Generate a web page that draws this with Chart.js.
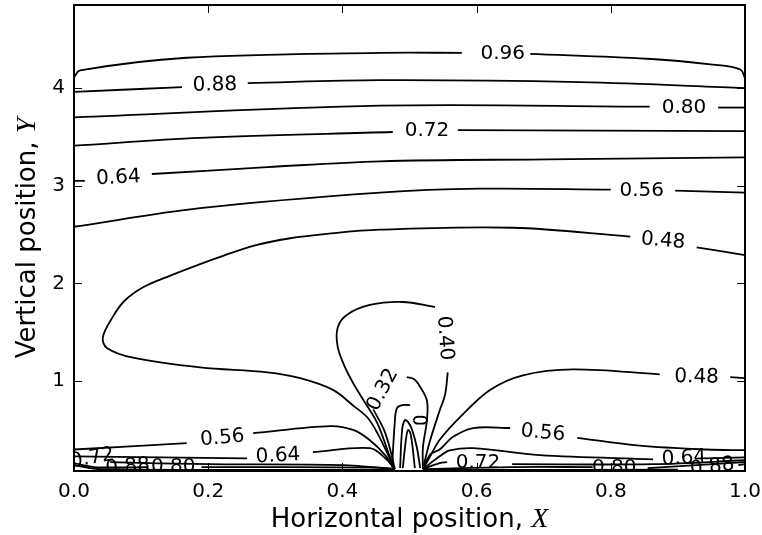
<!DOCTYPE html>
<html><head><meta charset="utf-8">
<script src="https://cdn.jsdelivr.net/npm/chart.js@4"></script>
<style>html,body{margin:0;padding:0;background:#fff}canvas{display:block}</style>
</head><body>
<canvas id="c" width="762" height="535"></canvas>
<script>
// ---- axis ticks / ranges ----
const xTicks = [0.0, 0.2, 0.4, 0.6, 0.8, 1.0];
const yTicks = [1, 2, 3, 4];
const xRange = [0, 1];
const yRange = [0.08, 4.85];

// ---- contour lines (each: list of segments, each segment: [X, Y] points) ----
const c096 = [
  [[0,4.11],[0.009,4.18],[0.168,4.31],[0.456,4.36],[0.578,4.36]],
  [[0.680,4.35],[0.854,4.30],[0.952,4.24],[0.993,4.19],[1,4.10]]
];
const c088 = [
  [[0,3.96],[0.161,4.01]],
  [[0.259,4.05],[0.456,4.08],[0.754,4.06],[1,4.00]]
];
const c080 = [
  [[0,3.70],[0.456,3.82],[0.858,3.81]],
  [[0.960,3.80],[1,3.80]]
];
const c072 = [
  [[0,3.41],[0.188,3.49],[0.475,3.55]],
  [[0.572,3.57],[1,3.56]]
];
const c064 = [
  [[0,3.05],[0.016,3.05]],
  [[0.116,3.12],[0.288,3.19],[0.456,3.25],[0.705,3.27],[1,3.29]]
];
const c056 = [
  [[0,2.58],[0.188,2.77],[0.456,2.93],[0.605,2.97],[0.800,2.96]],
  [[0.896,2.95],[1,2.93]]
];
const c048Upper = [
  [[1,2.29],[0.928,2.37]],
  [[0.829,2.48],[0.654,2.57],[0.456,2.55],[0.380,2.51],[0.320,2.46],[0.270,2.39],[0.225,2.29],[0.185,2.19],
   [0.140,2.07],[0.103,1.96],[0.075,1.82],[0.058,1.66],[0.043,1.45],[0.049,1.34],[0.088,1.24],[0.188,1.14],
   [0.288,1.09],[0.337,1.03],[0.386,0.91],[0.416,0.75],[0.437,0.63],[0.452,0.47],[0.474,0.16],[0.478,0.10]]
];
const c048Lower = [
  [[1,1.03],[0.978,1.04]],
  [[0.873,1.07],[0.744,1.12],[0.669,1.06],[0.620,0.91],[0.575,0.63],[0.545,0.40],[0.530,0.22],[0.520,0.10]]
];
const c040 = [
  [[0.538,1.76],[0.490,1.81],[0.441,1.78],[0.407,1.68],[0.393,1.55],[0.393,1.35],[0.404,1.14],
   [0.416,0.98],[0.431,0.81],[0.452,0.57],[0.471,0.22],[0.478,0.10]],
  [[0.557,1.09],[0.553,0.86],[0.545,0.70],[0.531,0.40],[0.523,0.19],[0.520,0.10]]
];
const c032 = [
  [[0.446,0.71],[0.462,0.50],[0.472,0.28],[0.478,0.10]],
  [[0.496,1.04],[0.507,1.02],[0.516,0.94],[0.526,0.80],[0.526,0.60],[0.520,0.32],[0.520,0.10]]
];
const cInner = [
  [[0.474,0.12],[0.478,0.57],[0.481,0.72],[0.489,0.754],[0.501,0.754]],
  [[0.486,0.11],[0.489,0.50],[0.493,0.60],[0.498,0.58],[0.504,0.50],[0.511,0.32],[0.516,0.11]],
  [[0.490,0.11],[0.495,0.42],[0.498,0.50],[0.502,0.45],[0.508,0.11]],
  [[0.506,0.60],[0.509,0.63],[0.516,0.635],[0.523,0.63],[0.526,0.60],[0.523,0.57],[0.516,0.565],[0.509,0.57],[0.506,0.60]]
];
const c056Left = [
  [[0,0.30],[0.168,0.365]],
  [[0.267,0.467],[0.382,0.539],[0.416,0.50],[0.441,0.395],[0.464,0.24],[0.478,0.10]]
];
const c064Left = [
  [[0,0.23],[0.258,0.21]],
  [[0.356,0.273],[0.441,0.314],[0.464,0.21],[0.478,0.10]]
];
const c072Left = [[[0.054,0.17],[0.200,0.15],[0.400,0.14],[0.478,0.10]]];
const c080Left = [
  [[0,0.16],[0.030,0.12],[0.110,0.12]],
  [[0.190,0.12],[0.450,0.115],[0.478,0.10]]
];
const c088Left = [[[0,0.14],[0.040,0.10],[0.478,0.09]]];
const c056Right = [
  [[0.520,0.10],[0.531,0.25],[0.545,0.30],[0.565,0.43],[0.595,0.52],[0.650,0.52]],
  [[0.750,0.42],[0.843,0.34],[0.943,0.30],[1,0.293]]
];
const c064Right = [
  [[0.520,0.10],[0.545,0.23],[0.560,0.29],[0.595,0.314],[0.694,0.242],[0.863,0.20]],
  [[0.940,0.21],[1,0.22]]
];
const c072Right = [
  [[0.520,0.10],[0.545,0.16],[0.556,0.17]],
  [[0.653,0.15],[0.863,0.15],[1,0.19]]
];
const c080Right = [
  [[0.520,0.10],[0.653,0.12],[0.773,0.12]],
  [[0.855,0.11],[1,0.17]]
];
const c088Right = [
  [[0.520,0.09],[0.900,0.095]],
  [[0.990,0.14],[1,0.15]]
];

// ---- inline contour labels: [text, X, Y, rotation in degrees] ----
const contourLabels = [
  ['0.96', 0.639, 4.36, 0],
  ['0.88', 0.210, 4.04, -1],
  ['0.80', 0.909, 3.807, 0],
  ['0.72', 0.526, 3.57, 0],
  ['0.64', 0.066, 3.09, -3],
  ['0.56', 0.846, 2.96, 0],
  ['0.48', 0.878, 2.445, 5],
  ['0.40', 0.554, 1.44, 86],
  ['0.32', 0.459, 0.916, -62],
  ['0.56', 0.221, 0.426, -5],
  ['0.64', 0.304, 0.242, -3],
  ['0.56', 0.699, 0.478, 5],
  ['0.48', 0.928, 1.05, 1],
  ['0.72', 0.602, 0.17, 0],
  ['0.64', 0.909, 0.22, -3],
  ['0.80', 0.805, 0.12, 0],
  ['0.88', 0.951, 0.13, -8],
  ['0.72', 0.027, 0.22, -10],
  ['0.88', 0.080, 0.13, -5],
  ['0.80', 0.148, 0.13, 0]
];

const allContours = [c096, c088, c080, c072, c064, c056, c048Upper, c048Lower, c040, c032, cInner,
  c056Left, c064Left, c072Left, c080Left, c088Left, c056Right, c064Right, c072Right, c080Right, c088Right];

const datasets = [];
for (const c of allContours) {
  for (const seg of c) {
    datasets.push({
      data: seg.map(([x, y]) => ({x, y})),
      showLine: true, pointRadius: 0, borderColor: '#000', borderWidth: 1.8,
      tension: 0.35, clip: 0, fill: false
    });
  }
}

const deco = {
  id: 'deco',
  afterDatasetsDraw(chart) {
    const {ctx, chartArea: a, scales: {x, y}} = chart;
    ctx.save();
    ctx.beginPath(); ctx.rect(a.left, a.top, a.right - a.left, a.bottom - a.top); ctx.clip();
    ctx.fillStyle = '#000';
    ctx.font = '20px "DejaVu Sans"';
    ctx.textAlign = 'center'; ctx.textBaseline = 'middle';
    for (const [t, vx, vy, rot] of contourLabels) {
      ctx.save();
      ctx.translate(x.getPixelForValue(vx), y.getPixelForValue(vy));
      ctx.rotate(rot * Math.PI / 180);
      ctx.fillText(t, 0, 1);
      ctx.restore();
    }
    ctx.restore();
    // frame and inward ticks
    ctx.save();
    ctx.strokeStyle = '#000'; ctx.lineWidth = 2;
    ctx.strokeRect(a.left, a.top, a.right - a.left, a.bottom - a.top);
    ctx.lineWidth = 1;
    ctx.beginPath();
    for (const v of xTicks) {
      const px = Math.round(x.getPixelForValue(v)) + 0.5;
      ctx.moveTo(px, a.bottom); ctx.lineTo(px, a.bottom - 8);
      ctx.moveTo(px, a.top); ctx.lineTo(px, a.top + 8);
    }
    for (const v of yTicks) {
      const py = Math.round(y.getPixelForValue(v)) + 0.5;
      ctx.moveTo(a.left, py); ctx.lineTo(a.left + 8, py);
      ctx.moveTo(a.right, py); ctx.lineTo(a.right - 8, py);
    }
    ctx.stroke();
    ctx.restore();
  },
  afterDraw(chart) {
    const {ctx, chartArea: a} = chart;
    ctx.save();
    ctx.fillStyle = '#000';
    ctx.textBaseline = 'alphabetic';
    const sans = '26px "DejaVu Sans"', ital = 'italic 28px "Liberation Serif"';
    // x title
    const t1 = 'Horizontal position, ', t2 = 'X';
    ctx.font = sans; const w1 = ctx.measureText(t1).width;
    ctx.font = ital; const w2 = ctx.measureText(t2).width;
    const sx = (a.left + a.right) / 2 - (w1 + w2) / 2;
    ctx.textAlign = 'left';
    ctx.font = sans; ctx.fillText(t1, sx, 527);
    ctx.font = ital; ctx.fillText(t2, sx + w1, 527);
    // y title
    const u1 = 'Vertical position, ', u2 = 'Y';
    ctx.font = sans; const v1 = ctx.measureText(u1).width;
    ctx.font = ital; const v2 = ctx.measureText(u2).width;
    ctx.translate(35, (a.top + a.bottom) / 2);
    ctx.rotate(-Math.PI / 2);
    const sy = -(v1 + v2) / 2;
    ctx.font = sans; ctx.fillText(u1, sy, 0);
    ctx.font = ital; ctx.fillText(u2, sy + v1, 0);
    ctx.restore();
  }
};

new Chart(document.getElementById('c'), {
  type: 'scatter',
  data: {datasets},
  options: {
    responsive: false, animation: false, devicePixelRatio: 1,
    layout: {padding: {left: 0, right: 17, top: 5, bottom: 0}},
    plugins: {legend: {display: false}, tooltip: {enabled: false}},
    scales: {
      x: {
        type: 'linear', min: xRange[0], max: xRange[1],
        grid: {display: false, drawTicks: false}, border: {display: false},
        ticks: {font: {family: 'DejaVu Sans', size: 20}, color: '#000', padding: 9, maxRotation: 0,
                callback: v => Number(v).toFixed(1)},
        afterBuildTicks: s => { s.ticks = xTicks.map(v => ({value: v})); },
        afterFit: s => { s.height = 64; s.paddingLeft = 0; s.paddingRight = 0; s.paddingTop = 0; s.paddingBottom = 0; }
      },
      y: {
        type: 'linear', min: yRange[0], max: yRange[1],
        grid: {display: false, drawTicks: false}, border: {display: false},
        ticks: {font: {family: 'DejaVu Sans', size: 20}, color: '#000', padding: 9,
                callback: v => String(v)},
        afterBuildTicks: s => { s.ticks = yTicks.map(v => ({value: v})); },
        afterFit: s => { s.width = 74; s.paddingLeft = 0; s.paddingRight = 0; s.paddingTop = 0; s.paddingBottom = 0; }
      }
    }
  },
  plugins: [deco]
});
</script>
</body></html>
